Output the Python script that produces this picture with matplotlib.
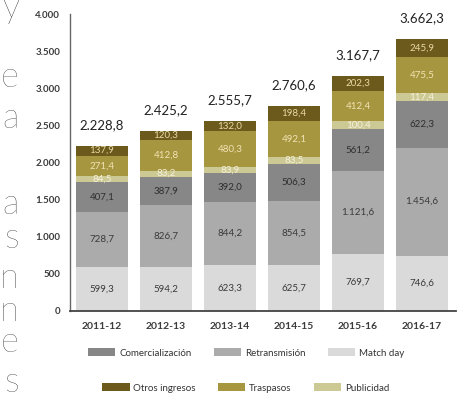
## Stacked revenue bars per season (millions of euros)
import matplotlib
matplotlib.use("Agg")
import matplotlib.pyplot as plt
from matplotlib.patches import Patch
import numpy as np

## Seasons on the x axis
seasons = ['2011-12', '2012-13', '2013-14', '2014-15', '2015-16', '2016-17']

## Series values, from the bottom of each bar upwards
matchDay = [599.3, 594.2, 623.3, 625.7, 769.7, 746.6]
retransmision = [728.7, 826.7, 844.2, 854.5, 1121.6, 1454.6]
comercializacion = [407.1, 387.9, 392.0, 506.3, 561.2, 622.3]
publicidad = [84.5, 83.2, 83.9, 83.5, 100.4, 117.4]
traspasos = [271.4, 412.8, 480.3, 492.1, 412.4, 475.5]
otrosIngresos = [137.9, 120.3, 132.0, 198.4, 202.3, 245.9]

## Totals printed above the bars
totals = [2228.8, 2425.2, 2555.7, 2760.6, 3167.7, 3662.3]

## Y tick values
yTicks = [0, 500, 1000, 1500, 2000, 2500, 3000, 3500, 4000]

## Letters from the neighbouring page, cut at the left border
sideLetters = ['y', 'e', 'a', 'a', 's', 'n', 'n', 'e', 's']
sideLetterRows = [8, 77, 118, 204, 238, 278, 311, 342, 382]


def spanishNumber(value, decimals=1):
    ## 1454.6 -> 1.454,6
    text = f"{value:,.{decimals}f}"
    return text.replace(',', '#').replace('.', ',').replace('#', '.')


def main():
    plt.rcParams['font.family'] = ['Lato', 'DejaVu Sans']

    W, H = 461, 397
    fig = plt.figure(figsize=(W / 100, H / 100), dpi=100)
    ax = fig.add_axes([70 / W, (H - 311) / H, (456 - 70) / W, (311 - 14) / H])

    ## Series order, colours and label colours
    series = [
        ('Match day', matchDay, '#dadada', '#3a3a3a'),
        ('Retransmisión', retransmision, '#ababab', '#3a3a3a'),
        ('Comercialización', comercializacion, '#878787', '#2e2e2e'),
        ('Publicidad', publicidad, '#cdc994', '#f6f1dc'),
        ('Traspasos', traspasos, '#a6963f', '#f1e3b4'),
        ('Otros ingresos', otrosIngresos, '#6c5a1c', '#e8d9a6'),
    ]

    x = np.arange(len(seasons))
    bottom = np.zeros(len(seasons))
    handles = {}
    for name, values, color, textColor in series:
        values = np.array(values)
        ax.bar(x, values, width=0.81, bottom=bottom, color=color, linewidth=0)
        handles[name] = Patch(facecolor=color, edgecolor='none')
        for xi, b, v in zip(x, bottom, values):
            ax.text(xi, b + v / 2, spanishNumber(v), ha='center', va='center',
                    fontsize=7, color=textColor)
        bottom = bottom + values

    ## Totals above each bar
    for xi, top, total in zip(x, bottom, totals):
        ax.annotate(spanishNumber(total), (xi, top), xytext=(0, 15),
                    textcoords='offset points', ha='center', va='center',
                    fontsize=9.5, color='#222222')

    ax.set_xlim(-0.5, 5.53)
    ax.set_ylim(0, 4000)
    ax.set_xticks(x)
    ax.set_xticklabels(seasons, fontsize=7.5, fontweight='bold', color='#3c3c3c')
    ax.set_yticks(yTicks)
    ax.set_yticklabels([spanishNumber(t, 0) for t in yTicks], fontsize=7,
                       fontweight='bold', color='#3c3c3c')
    ax.tick_params(length=0, pad=7)
    ax.tick_params(axis='x', pad=8)
    for side in ['top', 'right']:
        ax.spines[side].set_visible(False)
    ax.spines['left'].set_color('#666666')
    ax.spines['left'].set_linewidth(1.0)
    ax.spines['bottom'].set_color('#444444')
    ax.spines['bottom'].set_linewidth(1.3)

    ## Legend in two rows
    rows = [['Comercialización', 'Retransmisión', 'Match day'],
            ['Otros ingresos', 'Traspasos', 'Publicidad']]
    rowY = [1 - 353 / H, 1 - 388 / H]
    rowX = [246 / W, 246 / W]
    for names, lx, ly in zip(rows, rowX, rowY):
        fig.legend([handles[n] for n in names], names, loc='center',
                   bbox_to_anchor=(lx, ly), ncol=3, frameon=False,
                   fontsize=7, handlelength=2.8, handleheight=0.8,
                   handletextpad=0.4, columnspacing=2.3, labelcolor='#333333')

    ## Cut-off letters on the left border
    for letter, row in zip(sideLetters, sideLetterRows):
        fig.text(19 / W, 1 - row / H, letter, ha='right', va='center',
                 fontsize=25, fontweight='light', color='#1e1e1e')

    fig.savefig('out.png', dpi=100)


if __name__ == "__main__":
    main()
